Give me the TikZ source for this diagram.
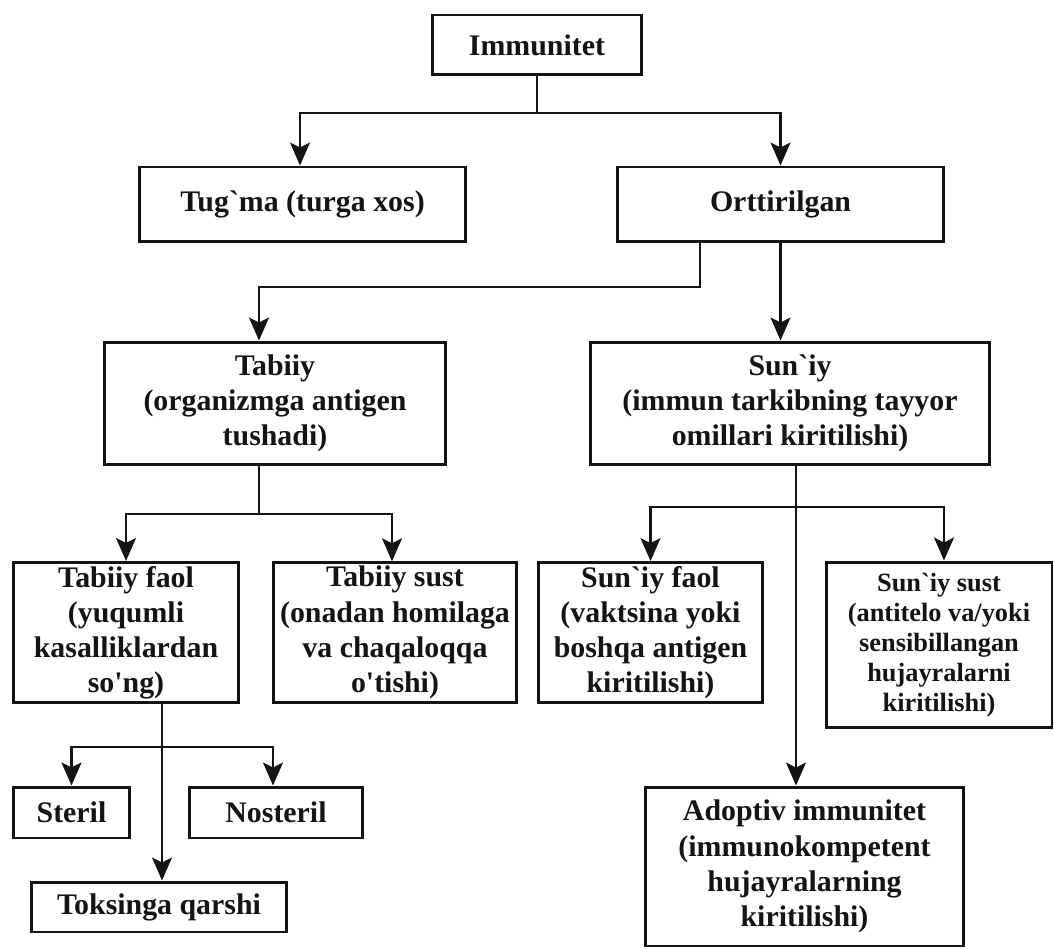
\documentclass[tikz,border=0pt]{standalone}
\usepackage{fontspec}
\setmainfont{Liberation Serif}
\usetikzlibrary{arrows.meta,positioning,calc}
\definecolor{ink}{RGB}{20,20,20}
\tikzset{
  every picture/.style={color=ink, line width=1.2pt, x=0.02cm, y=-0.02cm},
  box/.style={draw=ink, line width=1.7pt, fill=white, inner sep=2pt, align=center,
    font=\fontsize{17}{20}\selectfont\bfseries},
  small/.style={box, font=\fontsize{15}{17}\selectfont\bfseries},
  link/.style={line width=1.2pt},
  flow/.style={link, -{Stealth[length=0.46cm,width=0.4cm,inset=0.1cm]}},
}
\newcommand{\gr}{\textasciigrave{}}
\newcommand{\ap}{\textquotesingle{}}

\begin{document}
\begin{tikzpicture}
  \useasboundingbox (0,0) rectangle (1054,949);
  % top levels
  \node[box, minimum width=4.2cm, minimum height=1.2cm] (imm) at (537,45) {Immunitet};
  \node[box, minimum width=6.54cm, minimum height=1.5cm] (tug) at (302.5,204.5) {Tug\gr ma (turga xos)};
  \node[box, minimum width=6.54cm, minimum height=1.5cm] (ort) at (780.5,204.5) {Orttirilgan};
  \node[box, minimum width=6.84cm, minimum height=2.46cm] (tab) at (275,403.5) {Tabiiy\\(organizmga antigen\\tushadi)};
  \node[box, minimum width=8cm, minimum height=2.46cm] (sun) at (790,403.5) {Sun\gr iy\\(immun tarkibning tayyor\\omillari kiritilishi)};
  % third level
  \node[box, minimum width=4.52cm, minimum height=2.78cm] (tfa) at (126,632.5) {Tabiiy faol\\(yuqumli\\kasalliklardan\\so\ap ng)};
  \node[box, minimum width=4.88cm, minimum height=2.78cm] (tsu) at (395,632.5) {Tabiiy sust\\(onadan homilaga\\va chaqaloqqa\\o\ap tishi)};
  \node[box, minimum width=4.5cm, minimum height=2.78cm] (sfa) at (650.5,632.5) {Sun\gr iy faol\\(vaktsina yoki\\boshqa antigen\\kiritilishi)};
  \node[small, minimum width=4.52cm, minimum height=3.32cm] (ssu) at (939,645) {Sun\gr iy sust\\(antitelo va/yoki\\sensibillangan\\hujayralarni\\kiritilishi)};
  % bottom
  \node[box, minimum width=2.34cm, minimum height=1.02cm] (ste) at (71.5,812.5) {Steril};
  \node[box, minimum width=3.48cm, minimum height=1.02cm] (nos) at (276,812.5) {Nosteril};
  \node[box, minimum width=5.12cm, minimum height=1cm] (tok) at (159,907) {Toksinga qarshi};
  \node[box, minimum width=6.38cm, minimum height=3.18cm] (ado) at (804.5,866.5) {Adoptiv immunitet\\(immunokompetent\\hujayralarning\\kiritilishi)};
  % junctions
  \coordinate (j1) at (537,113);
  \coordinate (j2) at (259,287);
  \coordinate (j3) at (259,514);
  \coordinate (j4) at (796,507);
  \coordinate (j5) at (162,747);
  % connectors
  \draw[link] (imm) -- (j1);
  \draw[flow] (j1) -| ([xshift=-0.05cm]tug.north);
  \draw[flow] (j1) -| (ort);
  \draw[flow] (ort.south -| 700,0) |- (j2) -- (j2 |- tab.north);
  \draw[flow] (ort.south) -- (ort.south |- sun.north);
  \draw[link] (tab.south -| j3) -- (j3);
  \draw[flow] (j3) -| (tfa);
  \draw[flow] (j3) -| ([xshift=-0.06cm]tsu.north);
  \draw[flow] (sun.south -| j4) -- (j4 |- ado.north);
  \draw[flow] (j4) -| (sfa);
  \draw[flow] (j4) -| ([xshift=0.1cm]ssu.north);
  \draw[flow] (tfa.south -| j5) -- (j5 |- tok.north);
  \draw[flow] (j5) -| (ste);
  \draw[flow] (j5) -| ([xshift=-0.06cm]nos.north);
\end{tikzpicture}
\end{document}
